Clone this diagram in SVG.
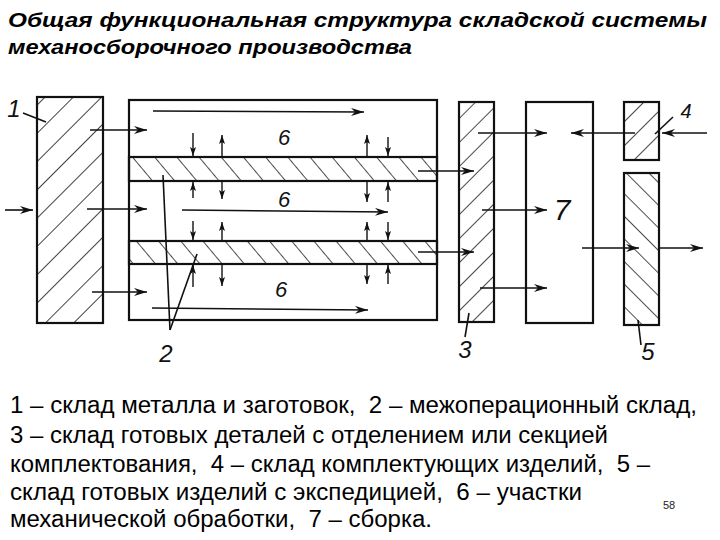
<svg xmlns="http://www.w3.org/2000/svg" width="720" height="540" viewBox="0 0 720 540">
<style>
.box{fill:none;stroke:#111;stroke-width:2.2}
.ln{fill:none;stroke:#111;stroke-width:1.6}
.ar{fill:none;stroke:#111;stroke-width:1.6;marker-end:url(#ah)}
.sa{fill:none;stroke:#111;stroke-width:1.4;marker-end:url(#sh)}
.lbl{font-family:"Liberation Sans",Arial,sans-serif;font-style:italic;fill:#111;text-anchor:middle}
.title{font-family:"Liberation Sans",Arial,sans-serif;font-weight:bold;font-style:italic;font-size:21px;fill:#000}
.body{font-family:"Liberation Sans",Arial,sans-serif;font-size:23px;fill:#000;white-space:pre}
</style>
<defs>
<marker id="ah" markerUnits="userSpaceOnUse" markerWidth="14" markerHeight="10" refX="13" refY="4" orient="auto">
<path d="M0,0 L13,4 L0,8 L4,4 z" fill="#111"/>
</marker>
<marker id="sh" markerUnits="userSpaceOnUse" markerWidth="10" markerHeight="8" refX="9" refY="3" orient="auto">
<path d="M0,0 L9,3 L0,6 L2,3 z" fill="#111"/>
</marker>
<pattern id="hs1" patternUnits="userSpaceOnUse" width="20" height="20" patternTransform="rotate(45)">
<line x1="0" y1="0" x2="0" y2="20" stroke="#111" stroke-width="1.6"/>
</pattern>
<pattern id="hs3" patternUnits="userSpaceOnUse" width="17" height="17" patternTransform="rotate(45)">
<line x1="0" y1="0" x2="0" y2="17" stroke="#111" stroke-width="1.5"/>
</pattern>
<pattern id="hb" patternUnits="userSpaceOnUse" width="17" height="17" patternTransform="rotate(-40)">
<line x1="0" y1="0" x2="0" y2="17" stroke="#111" stroke-width="1.5"/>
</pattern>
<pattern id="hs5" patternUnits="userSpaceOnUse" width="16" height="16" patternTransform="rotate(-45)">
<line x1="0" y1="0" x2="0" y2="16" stroke="#111" stroke-width="1.5"/>
</pattern>
</defs>
<rect width="720" height="540" fill="#fff"/>

<g id="title">
<text class="title" x="8" y="27" textLength="699" lengthAdjust="spacingAndGlyphs">Общая функциональная структура складской системы</text>
<text class="title" x="8" y="54" textLength="404" lengthAdjust="spacingAndGlyphs">механосборочного производства</text>
</g>

<g id="node1">
<rect x="37" y="97" width="66" height="226" fill="url(#hs1)"/>
<rect class="box" x="37" y="97" width="66" height="226"/>
<text class="lbl" x="14" y="117" font-size="24">1</text>
<line class="ln" x1="23" y1="113" x2="46" y2="122"/>
</g>

<g id="node6">
<rect class="box" x="129" y="100" width="308" height="220"/>
<text class="lbl" x="284" y="145" font-size="22">6</text>
<text class="lbl" x="284" y="207" font-size="22">6</text>
<text class="lbl" x="281" y="297" font-size="22">6</text>
</g>

<g id="node2">
<rect x="129" y="157" width="308" height="24" fill="url(#hb)"/>
<rect class="box" x="129" y="157" width="308" height="24"/>
<rect x="129" y="241" width="308" height="23" fill="url(#hb)"/>
<rect class="box" x="129" y="241" width="308" height="23"/>
<text class="lbl" x="166" y="362" font-size="24">2</text>
<line class="ln" x1="170" y1="330" x2="163" y2="175"/>
<line class="ln" x1="170" y1="330" x2="197" y2="254"/>
</g>

<g id="node3">
<rect x="459" y="102" width="35" height="220" fill="url(#hs3)"/>
<rect class="box" x="459" y="102" width="35" height="220"/>
<text class="lbl" x="465" y="358" font-size="24">3</text>
<line class="ln" x1="469" y1="313" x2="465" y2="337"/>
</g>

<g id="node7">
<rect class="box" x="526" y="102" width="67" height="221"/>
<text class="lbl" x="562" y="220" font-size="30">7</text>
</g>

<g id="node4">
<rect x="624" y="102" width="35" height="58" fill="url(#hs3)"/>
<rect class="box" x="624" y="102" width="35" height="58"/>
<text class="lbl" x="686" y="118" font-size="20">4</text>
<line class="ln" x1="673" y1="117" x2="655" y2="134"/>
</g>

<g id="node5">
<rect x="624" y="173" width="35" height="152" fill="url(#hs5)"/>
<rect class="box" x="624" y="173" width="35" height="152"/>
<text class="lbl" x="648" y="360" font-size="24">5</text>
<line class="ln" x1="638" y1="320" x2="641" y2="345"/>
</g>

<g id="connectors">
<line class="ar" x1="5" y1="210" x2="33" y2="210"/>
<line class="ar" x1="90" y1="130" x2="147" y2="130"/>
<line class="ar" x1="87" y1="209" x2="147" y2="209"/>
<line class="ar" x1="92" y1="292" x2="147" y2="292"/>
<line class="ar" x1="153" y1="111" x2="364" y2="112"/>
<line class="ar" x1="182" y1="210" x2="388" y2="212"/>
<line class="ar" x1="152" y1="308" x2="368" y2="310"/>
<line class="sa" x1="193" y1="133" x2="193" y2="156"/>
<line class="sa" x1="222" y1="157" x2="222" y2="135"/>
<line class="sa" x1="193" y1="198" x2="193" y2="182"/>
<line class="sa" x1="222" y1="182" x2="222" y2="199"/>
<line class="sa" x1="193" y1="221" x2="193" y2="240"/>
<line class="sa" x1="222" y1="241" x2="222" y2="222"/>
<line class="sa" x1="193" y1="287" x2="193" y2="265"/>
<line class="sa" x1="222" y1="264" x2="222" y2="286"/>
<line class="sa" x1="367" y1="157" x2="367" y2="135"/>
<line class="sa" x1="388" y1="137" x2="388" y2="156"/>
<line class="sa" x1="367" y1="182" x2="367" y2="202"/>
<line class="sa" x1="388" y1="202" x2="388" y2="182"/>
<line class="sa" x1="367" y1="241" x2="367" y2="222"/>
<line class="sa" x1="388" y1="222" x2="388" y2="240"/>
<line class="sa" x1="367" y1="264" x2="367" y2="284"/>
<line class="sa" x1="388" y1="284" x2="388" y2="265"/>
<line class="ar" x1="418" y1="171" x2="474" y2="171"/>
<line class="ar" x1="418" y1="252" x2="474" y2="252"/>
<line class="ar" x1="478" y1="133" x2="547" y2="133"/>
<line class="ar" x1="482" y1="210" x2="547" y2="210"/>
<line class="ar" x1="480" y1="288" x2="547" y2="288"/>
<line class="ar" x1="707" y1="133" x2="662" y2="133"/>
<line class="ar" x1="635" y1="133" x2="571" y2="133"/>
<line class="ar" x1="582" y1="248" x2="639" y2="248"/>
<line class="ar" x1="659" y1="248" x2="703" y2="248"/>
</g>

<g id="legend">
<text class="body" x="10" y="413" textLength="687" lengthAdjust="spacingAndGlyphs">1 – склад металла и заготовок,  2 – межоперационный склад,</text>
<text class="body" x="10" y="443" textLength="598" lengthAdjust="spacingAndGlyphs">3 – склад готовых деталей с отделением или секцией</text>
<text class="body" x="10" y="472" textLength="640" lengthAdjust="spacingAndGlyphs">комплектования,  4 – склад комплектующих изделий,  5 –</text>
<text class="body" x="10" y="500" textLength="572" lengthAdjust="spacingAndGlyphs">склад готовых изделий с экспедицией,  6 – участки</text>
<text class="body" x="10" y="527" textLength="422" lengthAdjust="spacingAndGlyphs">механической обработки,  7 – сборка.</text>
<text x="669" y="509" font-family="Liberation Sans, Arial, sans-serif" font-size="11" text-anchor="middle" fill="#222">58</text>
</g>
</svg>
